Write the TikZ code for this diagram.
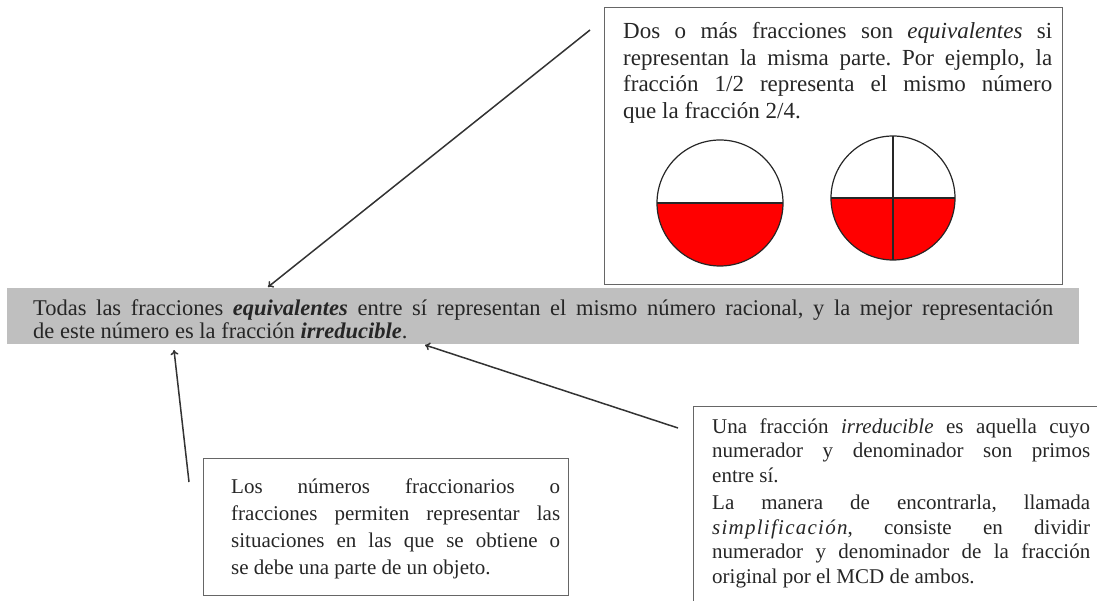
\documentclass[tikz,border=0pt]{standalone}
\usepackage{fontspec}
\setmainfont{Liberation Serif}
\usetikzlibrary{arrows.meta}
\frenchspacing
\begin{document}
\begin{tikzpicture}[x=1pt,y=1pt,
  boxline/.style={draw=black!60, line width=1.4pt, inner sep=0pt, anchor=north west},
  txt/.style={inner sep=0pt, anchor=north west, align=justify, text=black!85},
  conn/.style={draw=black!80, line width=1.5pt, -{To[length=5pt,width=8pt]}},
  pie/.style={draw=black!85, line width=1.2pt}]
\useasboundingbox (0,0) rectangle (1097,-601);

% top box
\node[boxline, minimum width=458pt, minimum height=277pt] (topbox) at (604,-7) {};
\node[txt, text width=429pt, font=\frenchspacing\fontsize{23}{26.5}\selectfont] (toptext) at (623,-22.5)
 {Dos o más fracciones son \textit{equivalentes} si\linebreak
  representan la misma parte. Por ejemplo, la\linebreak
  fracción 1/2 representa el mismo número\linebreak
  que la fracción 2/4.};

% circles
\fill[red] (657,-203) arc[start angle=180, end angle=360, radius=63pt] -- cycle;
\draw[pie] (720,-203) circle[radius=63pt];
\draw[pie] (657,-203) -- (783,-203);
\fill[red] (831,-198) arc[start angle=180, end angle=360, radius=62pt] -- cycle;
\draw[pie] (893,-198) circle[radius=62pt];
\draw[pie] (831,-198) -- (955,-198);
\draw[pie] (893,-136) -- (893,-260);

% gray bar
\node[fill=black!25, minimum width=1072pt, minimum height=56pt, inner sep=0pt, anchor=north west] (bar) at (7,-288) {};
\node[txt, text width=1020pt, font=\frenchspacing\fontsize{22.5}{23}\selectfont] (bartext) at (33,-299.5)
 {Todas las fracciones \textbf{\textit{equivalentes}} entre sí representan el mismo número racional, y la mejor representación\linebreak
  de este número es la fracción \textbf{\textit{irreducible}}.};

% lower left box
\node[boxline, minimum width=365pt, minimum height=137pt] (llbox) at (203,-458) {};
\node[txt, text width=329pt, font=\frenchspacing\fontsize{21}{27}\selectfont] (lltext) at (231,-479)
 {Los números fraccionarios o\linebreak
  fracciones permiten representar las\linebreak
  situaciones en las que se obtiene o\linebreak
  se debe una parte de un objeto.};

% lower right box (cut by the page edge)
\begin{scope}
\clip (0,0) rectangle (1097,-601);
\node[boxline, minimum width=420pt, minimum height=220pt] (lrbox) at (693,-406) {};
\end{scope}
\node[txt, text width=378pt, font=\frenchspacing\fontsize{21}{24.5}\selectfont] (lrtext) at (712,-418.5)
 {Una fracción \textit{irreducible} es aquella cuyo\linebreak
  numerador y denominador son primos\linebreak
  entre sí.\par\vspace{3pt}
  La manera de encontrarla, llamada\linebreak
  {\itshape\addfontfeature{LetterSpace=6}simplificación}, consiste en dividir\linebreak
  numerador y denominador de la fracción\linebreak
  original por el MCD de ambos.};

% connectors
\coordinate (a1) at (590,-30);
\coordinate (a1e) at (268,-287);
\coordinate (a2) at (189,-482);
\coordinate (a2e) at (174,-350);
\coordinate (a3) at (678,-428);
\coordinate (a3e) at (425,-345);
\draw[conn] (a1) -- (a1e);
\draw[conn] (a2) -- (a2e);
\draw[conn] (a3) -- (a3e);
\end{tikzpicture}
\end{document}
